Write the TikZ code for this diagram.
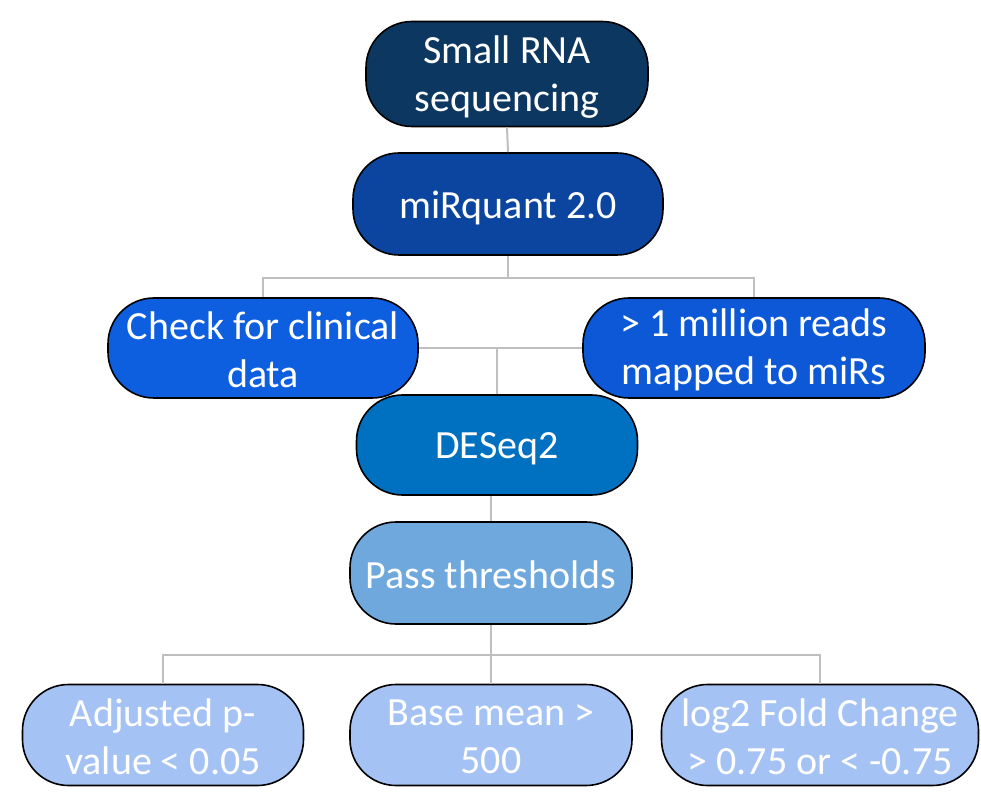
\documentclass[tikz,border=0pt]{standalone}
\usepackage{fontspec}
\setmainfont{Carlito}
\begin{document}
\begin{tikzpicture}[x=1pt,y=1pt,
  box/.style={draw=black,line width=1.6pt,rounded corners=46pt,minimum height=101pt,inner sep=0pt},
  txt/.style={text=white,align=center,inner sep=0pt,font=\fontsize{40}{48}\selectfont},
  link/.style={draw=black!25,line width=2pt}]
\definecolor{cA}{HTML}{0C3761}
\definecolor{cB}{HTML}{0B45A0}
\definecolor{cC}{HTML}{0E5FE0}
\definecolor{cD}{HTML}{0C58D6}
\definecolor{cE}{HTML}{0070C0}
\definecolor{cF}{HTML}{6FA8DC}
\definecolor{cG}{HTML}{A4C2F4}
\useasboundingbox (0,0) rectangle (981,798);
\node[box,fill=cA,minimum width=282pt,minimum height=105pt] (srna) at (507,724) {};
\node[box,fill=cB,minimum width=310pt,minimum height=102pt] (mirq) at (508,594) {};
\node[box,fill=cC,minimum width=310pt,minimum height=100pt] (check) at (263,450) {};
\node[box,fill=cD,minimum width=342pt,minimum height=100pt] (mil) at (754,450) {};
\node[box,fill=cE,minimum width=281pt,minimum height=100pt] (deseq) at (497,353) {};
\node[box,fill=cF,minimum width=282pt,minimum height=102pt] (pass) at (491,225) {};
\node[box,fill=cG,minimum width=281pt] (adj) at (163,63) {};
\node[box,fill=cG,minimum width=282pt] (base) at (491,63) {};
\node[box,fill=cG,minimum width=317pt] (log) at (820,63) {};
\node[txt] (tsrna) at ([yshift=-3pt]srna.center) {Small RNA\\sequencing};
\node[txt] (tmirq) at ([yshift=-4pt]mirq.center) {miRquant 2.0};
\node[txt] (tcheck) at ([yshift=-2pt]check.center) {Check for clinical\\data};
\node[txt] (tmil) at ([yshift=-2pt]mil.center) {> 1 million reads\\mapped to miRs};
\node[txt] (tdeseq) at ([yshift=-4pt]deseq.center) {DESeq2};
\node[txt] (tpass) at ([yshift=-2pt]pass.center) {Pass thresholds};
\node[txt] (tadj) at ([yshift=-2pt]adj.center) {Adjusted p-\\value < 0.05};
\node[txt] (tbase) at ([yshift=-2pt]base.center) {Base mean >\\500};
\node[txt] (tlog) at ([yshift=-2pt]log.center) {log2 Fold Change\\> 0.75 or < -0.75};
\draw[link] (srna.south) -- (mirq.north);
\coordinate (j1) at ([yshift=-22pt]mirq.south);
\draw[link] (mirq.south) -- (j1) -| (check.north);
\draw[link] (j1) -| (mil.north);
\draw[link] (check.east) -- (mil.west);
\draw[link] (deseq.north) -- (deseq.north |- check.east);
\draw[link] (pass.north) -- (pass.north |- deseq.south);
\coordinate (j2) at ([yshift=-30pt]pass.south);
\draw[link] (pass.south) -- (j2) -| (adj.north);
\draw[link] (j2) -| (log.north);
\draw[link] (j2) -- (base.north);
\end{tikzpicture}
\end{document}
